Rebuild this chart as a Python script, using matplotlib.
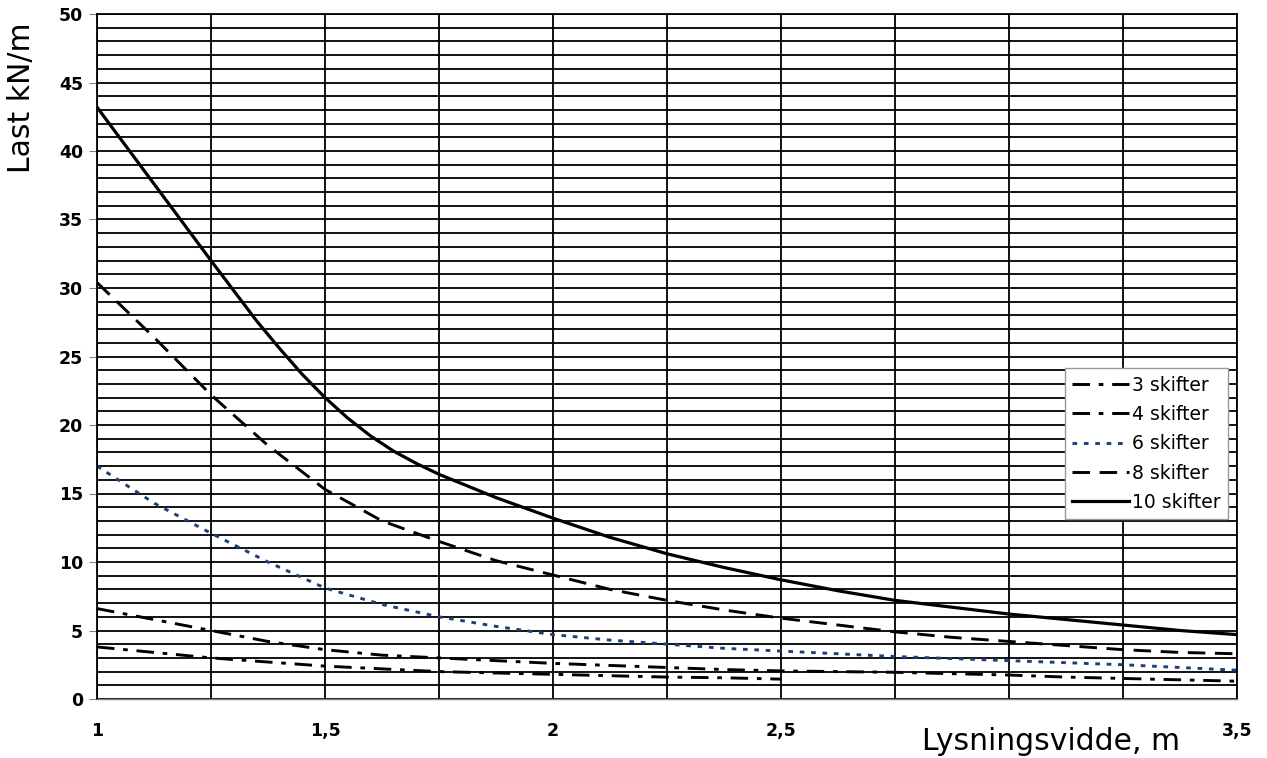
import numpy as np
import matplotlib
matplotlib.use("Agg")
import matplotlib.pyplot as plt

# spans (m), read at 0.125 m steps
spans = [1.0, 1.125, 1.25, 1.375, 1.5, 1.625, 1.75, 1.875, 2.0, 2.125, 2.25,
         2.375, 2.5, 2.625, 2.75, 2.875, 3.0, 3.125, 3.25, 3.375, 3.5]

# load kN/m per number of courses
last_3 = [3.8, 3.4, 3.0, 2.7, 2.4, 2.2, 2.0, 1.9, 1.8, 1.7, 1.6,
          1.55, 1.45, None, None, None, None, None, None, None, None]
last_4 = [6.6, 5.8, 5.0, 4.2, 3.6, 3.2, 3.0, 2.8, 2.6, 2.45, 2.3,
          2.15, 2.05, 2.0, 1.95, 1.85, 1.75, 1.6, 1.5, 1.4, 1.3]
last_6 = [17.0, 14.3, 12.1, 10.0, 8.1, 6.9, 6.0, 5.3, 4.7, 4.3, 4.0,
          3.7, 3.5, 3.3, 3.1, 2.95, 2.8, 2.65, 2.5, 2.3, 2.1]
last_8 = [30.4, 26.4, 22.2, 18.5, 15.3, 13.0, 11.5, 10.1, 9.05, 8.0, 7.2,
          6.5, 5.9, 5.4, 4.9, 4.5, 4.2, 3.9, 3.6, 3.4, 3.3]

# 10 courses read more densely where the curve bends most
spans_10 = [1.0, 1.125, 1.25, 1.3, 1.35, 1.4, 1.45, 1.5, 1.55, 1.6, 1.65,
            1.7, 1.75, 1.875, 2.0, 2.125, 2.25, 2.375, 2.5, 2.625, 2.75,
            2.875, 3.0, 3.125, 3.25, 3.375, 3.5]
last_10 = [43.2, 37.6, 32.0, 29.8, 27.6, 25.6, 23.7, 22.0, 20.5, 19.2, 18.1,
           17.2, 16.4, 14.7, 13.2, 11.8, 10.6, 9.6, 8.7, 7.9, 7.2,
           6.7, 6.2, 5.8, 5.4, 5.0, 4.7]

x_ticks = [1, 1.5, 2, 2.5, 3, 3.5]
x_tick_labels = ["1", "1,5", "2", "2,5", "", "3,5"]
y_ticks = [0, 5, 10, 15, 20, 25, 30, 35, 40, 45, 50]


def as_arr(v):
    return np.array([np.nan if a is None else a for a in v], dtype=float)


fig = plt.figure(figsize=(12.67, 7.58), dpi=100)
ax = fig.add_axes([97 / 1267, 59 / 758, 1140 / 1267, 685 / 758])

ax.set_xlim(1, 3.5)
ax.set_ylim(0, 50)

# grid: vertical every 0.25, horizontal every 1
ax.set_xticks(x_ticks)
ax.set_xticks(np.arange(1, 3.51, 0.25), minor=True)
ax.set_yticks(y_ticks)
ax.set_yticks(np.arange(0, 51, 1), minor=True)
ax.grid(True, which="both", color="black", linewidth=1.3)
ax.set_axisbelow(True)

lw = 2.1
ax.plot(spans, as_arr(last_3), color="black", lw=lw, dashes=(6, 3, 1.6, 3), label="3 skifter")
ax.plot(spans, as_arr(last_4), color="black", lw=lw, dashes=(6, 3, 1.6, 3), label="4 skifter")
ax.plot(spans, as_arr(last_6), color="#1b3f78", lw=lw, dashes=(1.6, 2.3), label="6 skifter")
ax.plot(spans, as_arr(last_8), color="black", lw=lw, dashes=(6, 3.3), label="8 skifter")
ax.plot(spans_10, last_10, color="black", lw=2.3, label="10 skifter")

ax.set_xticklabels(x_tick_labels, fontsize=12.5, fontweight="bold")
ax.set_yticklabels([str(v) for v in y_ticks], fontsize=12.5, fontweight="bold")
ax.tick_params(axis="x", which="both", length=0, pad=16.5)
ax.tick_params(axis="y", which="major", length=6, color="grey", pad=4)
ax.tick_params(axis="y", which="minor", length=0)

for s in ["left", "top", "right"]:
    ax.spines[s].set_color("black")
    ax.spines[s].set_linewidth(1.3)
ax.spines["bottom"].set_color("grey")
ax.spines["bottom"].set_linewidth(1.0)

leg = ax.legend(loc="upper left", bbox_to_anchor=(0.849, 0.483), fontsize=13.5,
                handlelength=3.0, handletextpad=0.2, borderpad=0.4,
                labelspacing=0.55, borderaxespad=0, fancybox=False,
                framealpha=1, edgecolor="#999999")
leg.get_frame().set_linewidth(1.0)

fig.text(22 / 1267, 1 - 98 / 758, "Last kN/m", rotation=90, fontsize=21.5,
         ha="center", va="center")
fig.text(1180 / 1267, 8 / 758, "Lysningsvidde, m", fontsize=21.5,
         ha="right", va="baseline")

fig.savefig("out.png", dpi=100)
